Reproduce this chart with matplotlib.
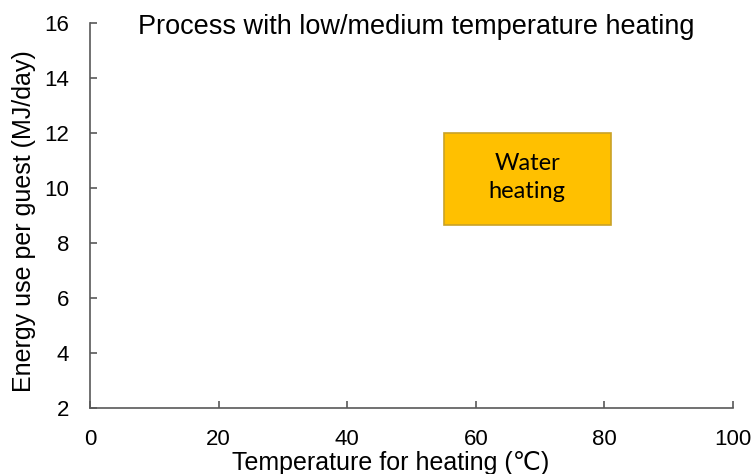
import matplotlib.pyplot as plt
from matplotlib.patches import Rectangle

plt.rcParams['font.family'] = ['Liberation Sans', 'DejaVu Sans']

# data
box_x = [55, 81]          # temperature range (C)
box_y = [8.65, 12.0]      # energy use range (MJ/day)
box_label = 'Water\nheating'
x_ticks = [0, 20, 40, 60, 80, 100]
y_ticks = [2, 4, 6, 8, 10, 12, 14, 16]

fig = plt.figure(figsize=(7.54, 4.74), dpi=100)
ax = fig.add_axes([0.1194, 0.1399, 0.8528, 0.8116])

ax.add_patch(Rectangle((box_x[0], box_y[0]), box_x[1] - box_x[0], box_y[1] - box_y[0],
                       facecolor='#FFC000', edgecolor='#C9A227', linewidth=1.2))
ax.text(sum(box_x) / 2, sum(box_y) / 2 + 0.05, box_label, ha='center', va='center',
        fontsize=17, family=['Lato', 'DejaVu Sans'], linespacing=1.45)

ax.set_xlim(0, 100)
ax.set_ylim(2, 16)
ax.set_xticks(x_ticks)
ax.set_yticks(y_ticks)

for s in ['top', 'right']:
    ax.spines[s].set_visible(False)
for s in ['left', 'bottom']:
    ax.spines[s].set_color('#595959')
    ax.spines[s].set_linewidth(1.2)

ax.tick_params(axis='both', direction='in', length=5, width=1.2, color='#595959',
               labelsize=16, pad=15)

ax.text(0.508, 0.99, 'Process with low/medium temperature heating', transform=ax.transAxes,
        ha='center', va='center', fontsize=19.5)
ax.set_xlabel('Temperature for heating (℃)', fontsize=18)
ax.xaxis.set_label_coords(0.468, -0.112)
ax.set_ylabel('Energy use per guest (MJ/day)', fontsize=18)
ax.yaxis.set_label_coords(-0.084, 0.485)

fig.savefig('out.png', dpi=100)
